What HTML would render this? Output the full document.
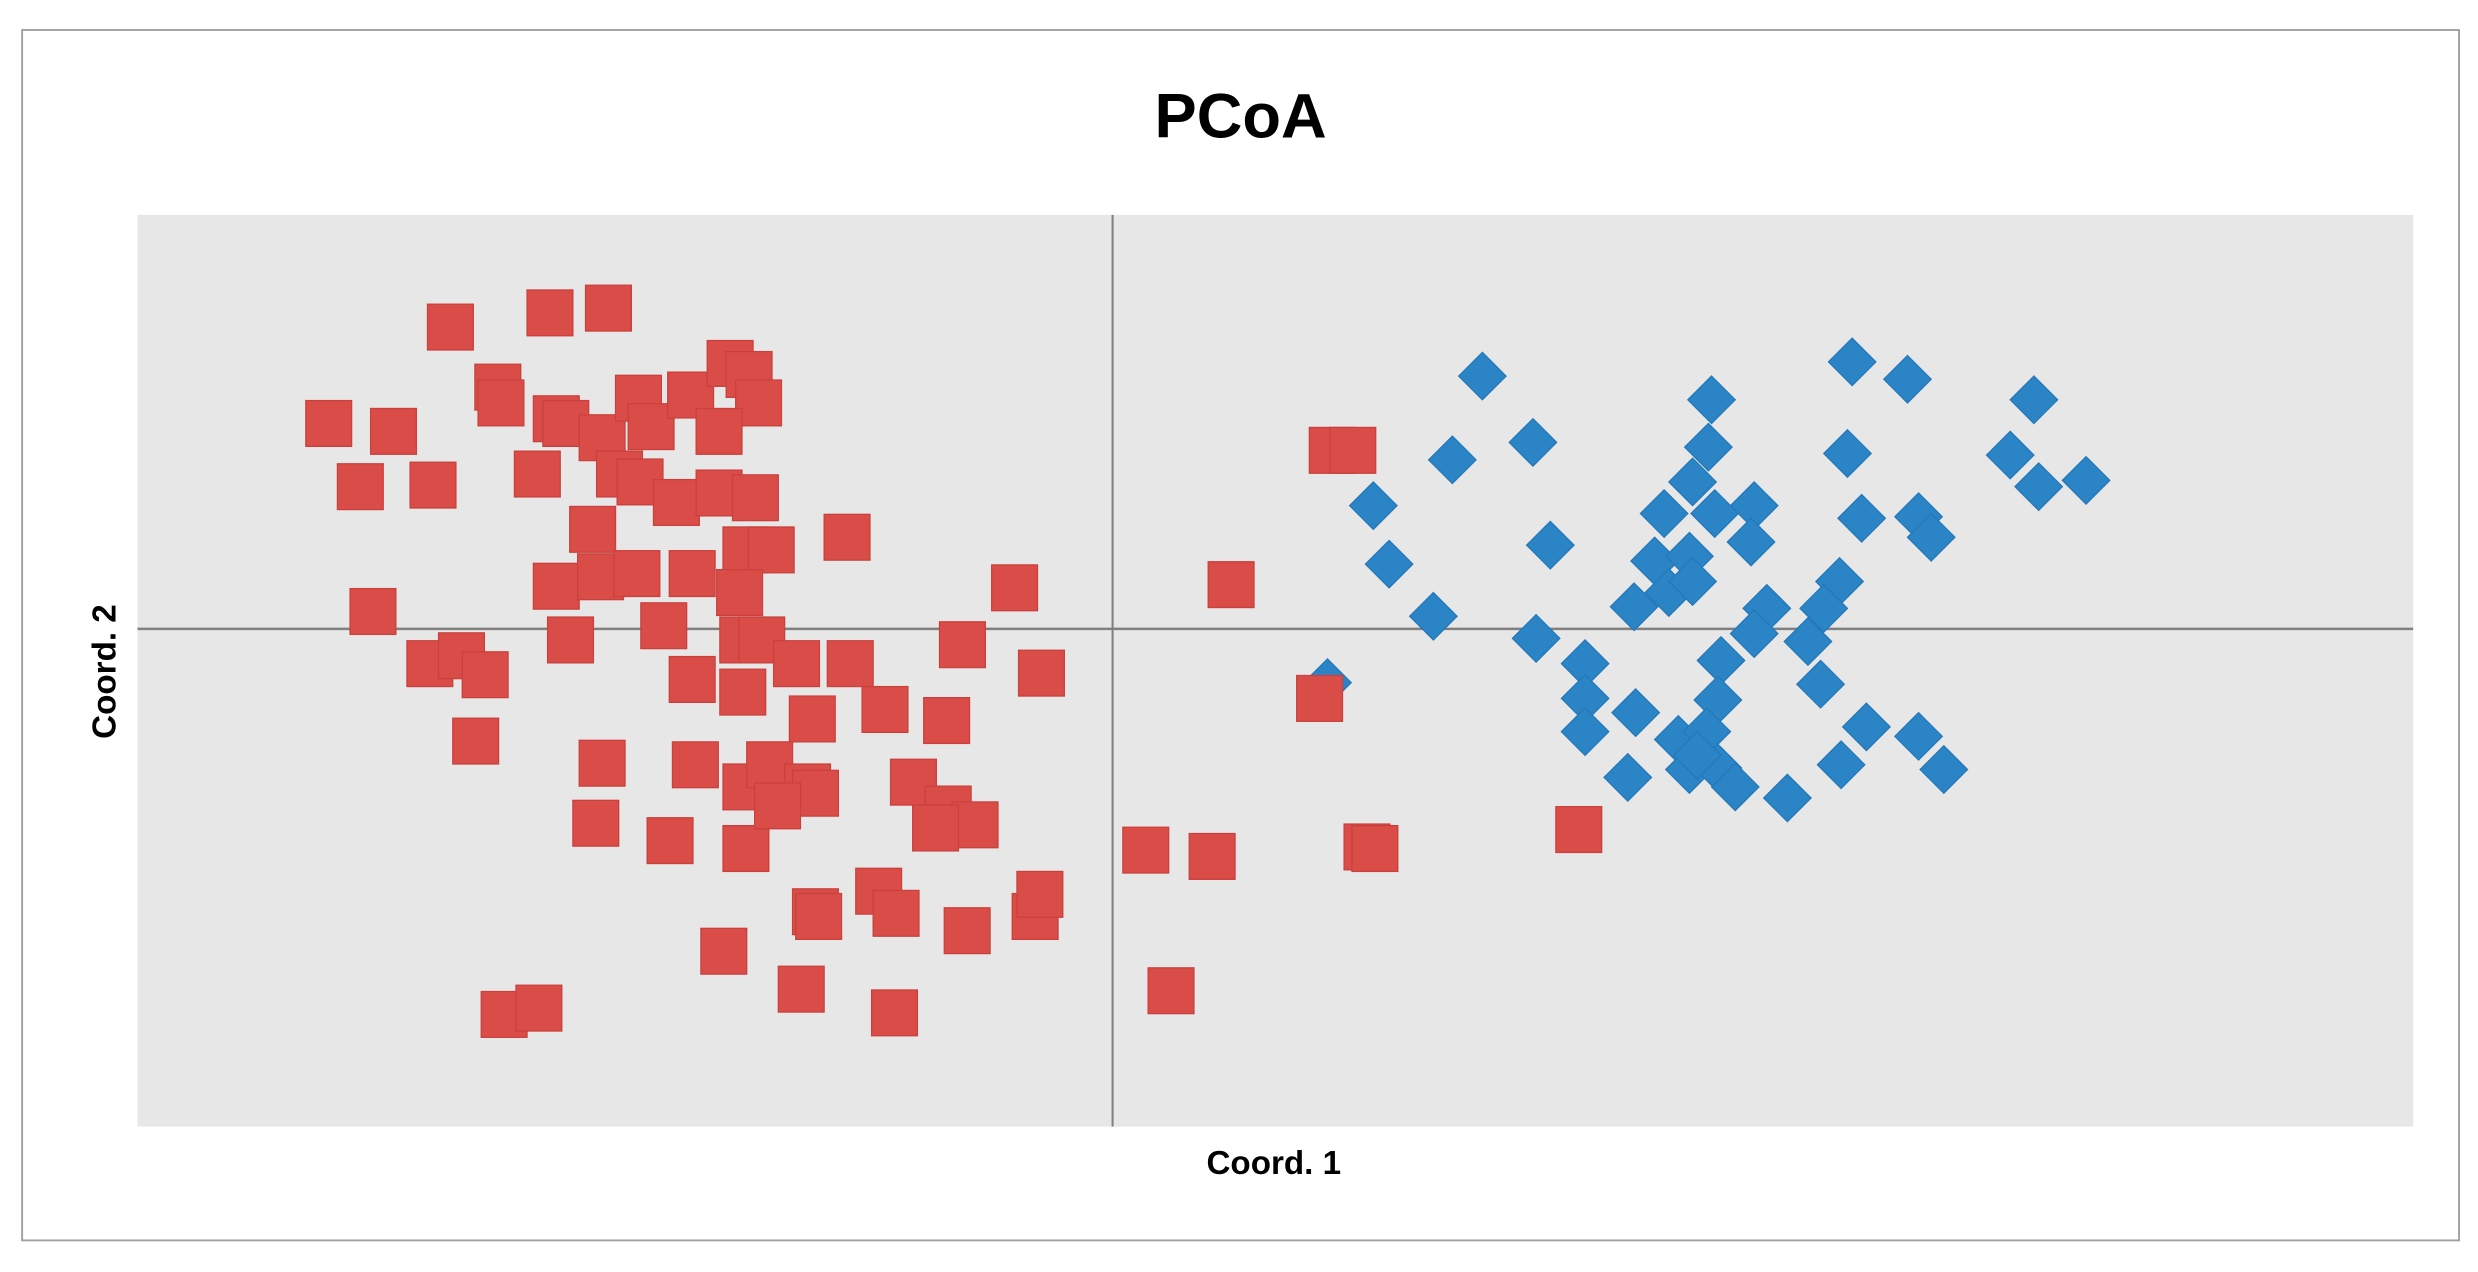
<!DOCTYPE html>
<html><head><meta charset="utf-8"><style>
html,body{margin:0;padding:0;background:#fff;width:2478px;height:1272px;overflow:hidden}
svg{display:block}
text{font-family:"Liberation Sans",sans-serif;font-weight:bold;fill:#000}
</style></head><body>
<svg id="chart" width="2478" height="1272" viewBox="0 0 1568 805" preserveAspectRatio="none">
<rect x="14" y="19" width="1542" height="766" fill="#fff" stroke="#a0a0a0" stroke-width="1.2"/>
<text x="785" y="87" font-size="40" text-anchor="middle">PCoA</text>
<rect x="87" y="136" width="1440" height="577" fill="#e7e7e7"/>
<g id="axes"></g>
<g id="marks"></g>
<text x="806" y="743" font-size="21" text-anchor="middle">Coord. 1</text>
<text x="0" y="0" font-size="21" text-anchor="middle" transform="translate(73,425) rotate(-90)">Coord. 2</text>
</svg>
<script>
const redX=[-0.419,-0.356,-0.319,-0.496,-0.455,-0.476,-0.430,-0.389,-0.387,-0.364,-0.352,-0.346,-0.323,-0.300,-0.292,-0.267,-0.242,-0.230,-0.224,-0.249,-0.312,-0.299,-0.276,-0.249,-0.226,-0.329,-0.352,-0.324,-0.301,-0.266,-0.232,-0.216,-0.168,-0.062,-0.468,-0.343,-0.284,-0.236,-0.234,-0.222,-0.432,-0.412,-0.397,-0.266,-0.234,-0.200,-0.166,-0.095,-0.045,-0.403,-0.190,-0.144,-0.105,-0.323,-0.264,-0.232,-0.217,-0.193,-0.188,-0.126,-0.104,-0.087,-0.112,-0.327,-0.280,-0.232,-0.212,-0.188,-0.186,-0.148,-0.137,-0.092,-0.049,-0.046,-0.246,-0.197,-0.138,-0.385,-0.363,0.075,0.139,0.152,0.131,0.021,0.063,0.161,0.166,0.295,0.037];
const redY=[0.191,0.200,0.203,0.130,0.125,0.090,0.091,0.153,0.143,0.098,0.133,0.130,0.121,0.146,0.128,0.148,0.168,0.161,0.143,0.125,0.098,0.093,0.080,0.086,0.083,0.063,0.027,0.033,0.035,0.035,0.050,0.050,0.058,0.026,0.011,-0.007,0.002,0.023,-0.007,-0.007,-0.022,-0.017,-0.029,-0.032,-0.040,-0.022,-0.022,-0.010,-0.028,-0.071,-0.057,-0.051,-0.058,-0.085,-0.086,-0.100,-0.086,-0.100,-0.104,-0.097,-0.114,-0.124,-0.126,-0.123,-0.134,-0.139,-0.112,-0.179,-0.182,-0.166,-0.180,-0.191,-0.182,-0.168,-0.204,-0.228,-0.243,-0.244,-0.240,0.028,0.113,0.113,-0.044,-0.140,-0.144,-0.138,-0.139,-0.127,-0.229];
const blueX=[0.234,0.468,0.503,0.379,0.583,0.266,0.215,0.377,0.465,0.568,0.586,0.616,0.165,0.367,0.349,0.381,0.406,0.474,0.510,0.518,0.277,0.404,0.175,0.343,0.365,0.352,0.367,0.460,0.203,0.330,0.414,0.450,0.406,0.440,0.268,0.299,0.385,0.448,0.136,0.299,0.383,0.331,0.299,0.477,0.510,0.358,0.376,0.365,0.383,0.394,0.326,0.461,0.526,0.427,0.370];
const blueY=[0.160,0.169,0.158,0.145,0.145,0.118,0.107,0.115,0.111,0.110,0.090,0.094,0.078,0.093,0.073,0.073,0.078,0.070,0.071,0.058,0.053,0.055,0.041,0.043,0.046,0.023,0.030,0.030,0.008,0.014,0.013,0.013,-0.003,-0.008,-0.006,-0.022,-0.020,-0.035,-0.034,-0.044,-0.045,-0.053,-0.065,-0.062,-0.068,-0.070,-0.065,-0.089,-0.088,-0.100,-0.094,-0.086,-0.089,-0.107,-0.080];
const xDomain=[-0.617,0.823], yDomain=[-0.315,0.262];
const plot={x:87,y:136,w:1440,h:577};
function xs(v){return plot.x+(v-xDomain[0])/(xDomain[1]-xDomain[0])*plot.w;}
function ys(v){return plot.y+(yDomain[1]-v)/(yDomain[1]-yDomain[0])*plot.h;}
const NS="http://www.w3.org/2000/svg";
const axes=document.getElementById('axes'), marks=document.getElementById('marks');
const vx=document.createElementNS(NS,'line');


vx.setAttribute('x1',xs(0));vx.setAttribute('x2',xs(0));vx.setAttribute('y1',plot.y);vx.setAttribute('y2',plot.y+plot.h);
vx.setAttribute('stroke','#808080');vx.setAttribute('stroke-width','1.3');
axes.appendChild(vx);
const hx=document.createElementNS(NS,'line');


hx.setAttribute('x1',plot.x);hx.setAttribute('x2',plot.x+plot.w);hx.setAttribute('y1',ys(0));hx.setAttribute('y2',ys(0));
hx.setAttribute('stroke','#808080');hx.setAttribute('stroke-width','1.6');
axes.appendChild(hx);
for(let i=0;i<blueX.length;i++){
  const cx=xs(blueX[i]), cy=ys(blueY[i]);
  const p=document.createElementNS(NS,'polygon');
  
  
  p.setAttribute('points',`${cx},${cy-15} ${cx+15},${cy} ${cx},${cy+15} ${cx-15},${cy}`);
  p.setAttribute('fill','#2a84c6');
  p.setAttribute('stroke','#2478b8');p.setAttribute('stroke-width','0.8');
  marks.appendChild(p);
}
for(let i=0;i<redX.length;i++){
  const cx=xs(redX[i]), cy=ys(redY[i]);
  const r=document.createElementNS(NS,'rect');
  
  
  r.setAttribute('x',cx-14.5);r.setAttribute('y',cy-14.5);r.setAttribute('width',29);r.setAttribute('height',29);
  r.setAttribute('fill','#da4c48');
  r.setAttribute('stroke','#c9403c');r.setAttribute('stroke-width','0.8');
  marks.appendChild(r);
}
</script>
</body></html>
